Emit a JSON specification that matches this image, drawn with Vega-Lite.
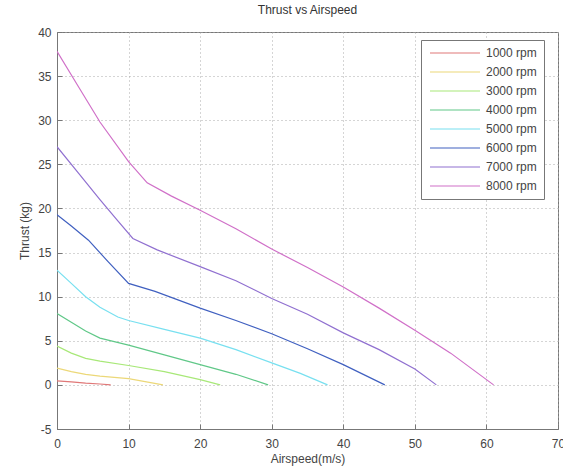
{
  "$schema": "https://vega.github.io/schema/vega-lite/v6.json",
  "autosize": "none",
  "width": 501,
  "height": 397,
  "padding": {"left": 57, "top": 32, "right": 5, "bottom": 46},
  "background": "white",
  "title": {"text": "Thrust vs Airspeed", "fontSize": 12, "fontWeight": "normal", "font": "Liberation Sans", "color": "#333333", "offset": 9},
  "config": {
    "view": {"stroke": "#777777", "strokeWidth": 1},
    "axis": {
      "labelFont": "Liberation Sans", "labelFontSize": 12, "labelColor": "#444444",
      "titleFont": "Liberation Sans", "titleFontSize": 12, "titleFontWeight": "normal", "titleColor": "#444444",
      "gridColor": "#aaaaaa", "gridDash": [1, 3], "gridOpacity": 1,
      "domainColor": "#777777", "tickColor": "#777777", "tickSize": -5
    }
  },
  "data": {"values": [
    {"s": "1000 rpm", "v": 0, "t": 0.45}, {"s": "1000 rpm", "v": 2, "t": 0.35}, {"s": "1000 rpm", "v": 4, "t": 0.2}, {"s": "1000 rpm", "v": 6, "t": 0.1}, {"s": "1000 rpm", "v": 7.5, "t": 0},
    {"s": "2000 rpm", "v": 0, "t": 1.9}, {"s": "2000 rpm", "v": 2, "t": 1.5}, {"s": "2000 rpm", "v": 4, "t": 1.2}, {"s": "2000 rpm", "v": 6, "t": 1.0}, {"s": "2000 rpm", "v": 10, "t": 0.7}, {"s": "2000 rpm", "v": 12.5, "t": 0.35}, {"s": "2000 rpm", "v": 14.8, "t": 0},
    {"s": "3000 rpm", "v": 0, "t": 4.4}, {"s": "3000 rpm", "v": 2, "t": 3.6}, {"s": "3000 rpm", "v": 4, "t": 3.0}, {"s": "3000 rpm", "v": 6, "t": 2.7}, {"s": "3000 rpm", "v": 10, "t": 2.2}, {"s": "3000 rpm", "v": 15, "t": 1.5}, {"s": "3000 rpm", "v": 20, "t": 0.6}, {"s": "3000 rpm", "v": 22.8, "t": 0},
    {"s": "4000 rpm", "v": 0, "t": 8.1}, {"s": "4000 rpm", "v": 2, "t": 7.1}, {"s": "4000 rpm", "v": 4, "t": 6.1}, {"s": "4000 rpm", "v": 6, "t": 5.3}, {"s": "4000 rpm", "v": 10, "t": 4.5}, {"s": "4000 rpm", "v": 15, "t": 3.4}, {"s": "4000 rpm", "v": 20, "t": 2.3}, {"s": "4000 rpm", "v": 25, "t": 1.2}, {"s": "4000 rpm", "v": 29.5, "t": 0},
    {"s": "5000 rpm", "v": 0, "t": 13}, {"s": "5000 rpm", "v": 2, "t": 11.5}, {"s": "5000 rpm", "v": 4, "t": 10}, {"s": "5000 rpm", "v": 6, "t": 8.8}, {"s": "5000 rpm", "v": 8.5, "t": 7.7}, {"s": "5000 rpm", "v": 10, "t": 7.3}, {"s": "5000 rpm", "v": 15, "t": 6.3}, {"s": "5000 rpm", "v": 20, "t": 5.3}, {"s": "5000 rpm", "v": 25, "t": 4.0}, {"s": "5000 rpm", "v": 30, "t": 2.5}, {"s": "5000 rpm", "v": 34, "t": 1.3}, {"s": "5000 rpm", "v": 37.8, "t": 0},
    {"s": "6000 rpm", "v": 0, "t": 19.3}, {"s": "6000 rpm", "v": 2, "t": 18.0}, {"s": "6000 rpm", "v": 4.4, "t": 16.4}, {"s": "6000 rpm", "v": 7.1, "t": 14.0}, {"s": "6000 rpm", "v": 10, "t": 11.5}, {"s": "6000 rpm", "v": 13.7, "t": 10.6}, {"s": "6000 rpm", "v": 20, "t": 8.7}, {"s": "6000 rpm", "v": 25, "t": 7.3}, {"s": "6000 rpm", "v": 30, "t": 5.8}, {"s": "6000 rpm", "v": 35, "t": 4.1}, {"s": "6000 rpm", "v": 40, "t": 2.3}, {"s": "6000 rpm", "v": 45.8, "t": 0},
    {"s": "7000 rpm", "v": 0, "t": 27}, {"s": "7000 rpm", "v": 3, "t": 24}, {"s": "7000 rpm", "v": 6, "t": 21}, {"s": "7000 rpm", "v": 8.5, "t": 18.6}, {"s": "7000 rpm", "v": 10.6, "t": 16.6}, {"s": "7000 rpm", "v": 14, "t": 15.3}, {"s": "7000 rpm", "v": 20, "t": 13.4}, {"s": "7000 rpm", "v": 25, "t": 11.8}, {"s": "7000 rpm", "v": 30, "t": 9.8}, {"s": "7000 rpm", "v": 35, "t": 8.0}, {"s": "7000 rpm", "v": 40, "t": 5.9}, {"s": "7000 rpm", "v": 45, "t": 4.0}, {"s": "7000 rpm", "v": 50, "t": 1.8}, {"s": "7000 rpm", "v": 53, "t": 0},
    {"s": "8000 rpm", "v": 0, "t": 37.8}, {"s": "8000 rpm", "v": 3, "t": 33.8}, {"s": "8000 rpm", "v": 6, "t": 29.8}, {"s": "8000 rpm", "v": 10, "t": 25.3}, {"s": "8000 rpm", "v": 12.6, "t": 22.9}, {"s": "8000 rpm", "v": 16, "t": 21.4}, {"s": "8000 rpm", "v": 20, "t": 19.8}, {"s": "8000 rpm", "v": 25, "t": 17.7}, {"s": "8000 rpm", "v": 30, "t": 15.4}, {"s": "8000 rpm", "v": 35, "t": 13.3}, {"s": "8000 rpm", "v": 40, "t": 11.1}, {"s": "8000 rpm", "v": 45, "t": 8.7}, {"s": "8000 rpm", "v": 50, "t": 6.2}, {"s": "8000 rpm", "v": 55, "t": 3.6}, {"s": "8000 rpm", "v": 61, "t": 0}
  ]},
  "mark": {"type": "line", "strokeWidth": 1.2, "clip": true},
  "encoding": {
    "x": {"field": "v", "type": "quantitative", "title": "Airspeed(m/s)",
      "scale": {"domain": [0, 70], "nice": false},
      "axis": {"values": [0, 10, 20, 30, 40, 50, 60, 70], "labelPadding": 14, "titlePadding": 4, "labelFlush": false}},
    "y": {"field": "t", "type": "quantitative", "title": "Thrust (kg)",
      "scale": {"domain": [-5, 40], "nice": false, "zero": false},
      "axis": {"values": [-5, 0, 5, 10, 15, 20, 25, 30, 35, 40], "labelPadding": 11, "titlePadding": 6, "labelFlush": false,
        "labelExpr": "replace(datum.label, '\u2212', '-')"}},
    "color": {"field": "s", "type": "nominal",
      "scale": {"domain": ["1000 rpm", "2000 rpm", "3000 rpm", "4000 rpm", "5000 rpm", "6000 rpm", "7000 rpm", "8000 rpm"],
        "range": ["#e07878", "#ecd878", "#a8e878", "#60c888", "#78e0f0", "#4060c0", "#9070d0", "#d070c8"]},
      "legend": {"title": null, "orient": "none", "legendX": 364, "legendY": 8,
        "fillColor": "white", "strokeColor": "#777777", "padding": 7,
        "symbolType": "M-1,0H11.5", "symbolSize": 64, "symbolStrokeWidth": 1.2,
        "labelOffset": 46, "labelFont": "Liberation Sans", "labelFontSize": 12, "labelColor": "#444444",
        "rowPadding": 7}}
  }
}
